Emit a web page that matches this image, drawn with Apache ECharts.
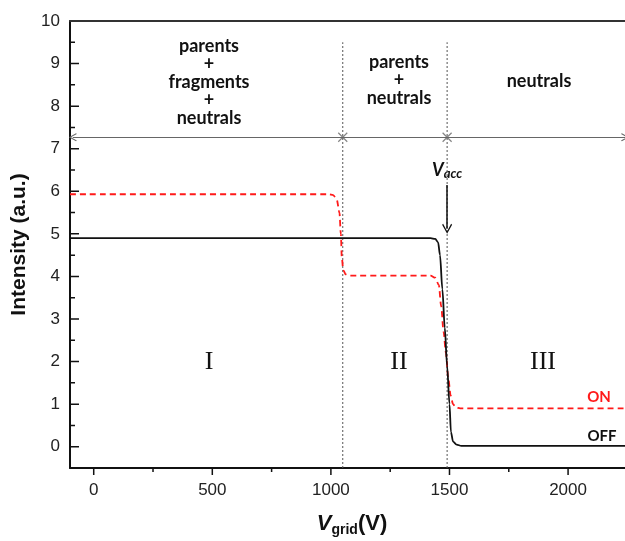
<!DOCTYPE html>
<html><head><meta charset="utf-8">
<script src="https://cdn.jsdelivr.net/npm/echarts@6/dist/echarts.min.js"></script>
<style>html,body{margin:0;padding:0;background:#fff}#c{width:625px;height:541px}</style>
</head><body><div id="c"></div>
<script>
// ---- data ----
const offX = [-100, 1420, 1440, 1452, 1460, 1470, 1480, 1490, 1500, 1506, 1515, 1530, 1550, 2240];
const offY = [4.9, 4.9, 4.88, 4.8, 4.5, 3.7, 2.8, 1.9, 1.0, 0.35, 0.12, 0.05, 0.02, 0.02];
const onX = [-100, 990, 1010, 1025, 1036, 1042, 1046, 1052, 1062, 1078, 1100, 1420, 1440, 1455, 1465, 1475, 1485, 1495, 1505, 1515, 1527, 1545, 2240];
const onY = [5.93, 5.93, 5.91, 5.8, 5.5, 5.0, 4.45, 4.15, 4.05, 4.02, 4.02, 4.02, 3.97, 3.8, 3.3, 2.7, 2.2, 1.6, 1.2, 1.0, 0.92, 0.9, 0.9];
const boundaries = [1050, 1490];
const boundaryTop = 9.5;
const arrowLevel = 7.27;
const arrowStart = -88;
const arrowEnd = 2240;
const vaccX = 1490, vaccFrom = 6.15, vaccTo = 5.12;
const xTicks = [0, 500, 1000, 1500, 2000];
const xMinor = [250, 750, 1250, 1750];
const yTicks = [0, 1, 2, 3, 4, 5, 6, 7, 8, 9, 10];
const yMinor = [-0.5, 0.5, 1.5, 2.5, 3.5, 4.5, 5.5, 6.5, 7.5, 8.5, 9.5];

const pairs = (xs, ys) => xs.map((x, i) => [x, ys[i]]);
const chart = echarts.init(document.getElementById('c'));
const X_PATH = 'path://M0,0L10,10M10,0L0,10';
const CHEVRON = 'path://M5,0L10,9L9,10L5,2.6L1,10L0,9Z';
const gray = '#666';
const XR = {min: -100, max: 2240};
const YR = {min: -0.5, max: 10};

// tick marks: short segments placed through the axis scales
function xTickSeries(vals, len) {
  return {type: 'line', silent: true, z: 6, symbol: 'none', clip: false,
    data: vals.flatMap(v => [[v, YR.min], [v, YR.min - len / 42.5], [null, null]]),
    connectNulls: false,
    lineStyle: {color: '#111', width: 1.5}};
}
function yTickSeries(vals, len) {
  return {type: 'line', silent: true, z: 6, symbol: 'none', clip: false,
    data: vals.flatMap(v => [[XR.min, v], [XR.min + len / 0.2372, v], [null, null]]),
    connectNulls: false,
    lineStyle: {color: '#111', width: 1.5}};
}

const boundarySeries = boundaries.map(b => ({
  type: 'line', data: [[b, -0.5], [b, boundaryTop]], symbol: 'none', silent: true,
  lineStyle: {color: '#555', width: 1, type: [2, 2]}, z: 1
}));

const option = {
  animation: false,
  grid: {left: 70, right: 0, top: 21, bottom: 73, containLabel: false},
  xAxis: [
    {type: 'value', ...XR, position: 'bottom',
     axisLine: {show: true, onZero: false, lineStyle: {color: '#111', width: 2}},
     axisTick: {show: false},
     axisLabel: {show: true, customValues: xTicks, margin: 14, color: '#222', fontFamily: 'Liberation Sans', fontSize: 17,
                 formatter: v => String(v)},
     splitLine: {show: false}},
    {type: 'value', ...XR, position: 'top',
     axisLine: {show: true, onZero: false, lineStyle: {color: '#333', width: 2}},
     axisTick: {show: false}, axisLabel: {show: false}, splitLine: {show: false}}
  ],
  yAxis: [
    {type: 'value', ...YR, position: 'left',
     axisLine: {show: true, onZero: false, lineStyle: {color: '#111', width: 2}},
     axisTick: {show: false},
     axisLabel: {show: true, customValues: yTicks, margin: 10, color: '#222', fontFamily: 'Liberation Sans', fontSize: 17,
                 formatter: v => String(v)},
     splitLine: {show: false},
     name: 'Intensity (a.u.)', nameLocation: 'middle', nameGap: 40, nameRotate: 90,
     nameTextStyle: {fontFamily: 'Liberation Sans', fontWeight: 'bold', fontSize: 21, color: '#111'}}
  ],
  series: [
    ...boundarySeries,
    xTickSeries(xTicks, 7),
    xTickSeries(xMinor, 4),
    yTickSeries(yTicks.filter(v => v < YR.max), 9),
    yTickSeries(yMinor, 5),
    {type: 'line', name: 'guide', data: [], symbol: 'none', silent: true,
     markLine: {silent: true, symbol: [CHEVRON, CHEVRON], symbolSize: [8, 8],
       label: {show: false}, lineStyle: {color: gray, width: 1.2, type: 'solid'},
       itemStyle: {color: gray},
       data: [[{coord: [arrowStart, arrowLevel]}, {coord: [arrowEnd, arrowLevel]}]]}},
    {type: 'scatter', data: boundaries.map(b => [b, arrowLevel]), symbol: X_PATH, symbolSize: 9, silent: true,
     itemStyle: {color: 'none', borderColor: gray, borderWidth: 1.2}, z: 3},
    {type: 'line', name: 'vacc', data: [], symbol: 'none', silent: true,
     markLine: {silent: true, symbol: ['none', CHEVRON], symbolSize: [10, 10],
       label: {show: false}, lineStyle: {color: '#111', width: 1.5, type: 'solid'},
       itemStyle: {color: '#111'},
       data: [[{coord: [vaccX, vaccFrom]}, {coord: [vaccX, vaccTo]}]]}},
    {type: 'line', name: 'ON', data: pairs(onX, onY), symbol: 'none', smooth: 0.3, smoothMonotone: 'x',
     lineStyle: {color: '#ff1a1a', width: 1.8, type: [6, 4]}, z: 4},
    {type: 'line', name: 'OFF', data: pairs(offX, offY), symbol: 'none', smooth: 0.3, smoothMonotone: 'x',
     lineStyle: {color: '#111', width: 1.8}, z: 5}
  ],
  graphic: [
    {type: 'text', x: 209, y: 82, style: {text: 'parents\n+\nfragments\n+\nneutrals', align: 'center', verticalAlign: 'middle', lineHeight: 18, font: 'bold 18px Lato', fill: '#111'}},
    {type: 'text', x: 399, y: 80, style: {text: 'parents\n+\nneutrals', align: 'center', verticalAlign: 'middle', lineHeight: 18, font: 'bold 18px Lato', fill: '#111'}},
    {type: 'text', x: 539, y: 81, style: {text: 'neutrals', align: 'center', verticalAlign: 'middle', font: 'bold 18px Lato', fill: '#111'}},
    {type: 'text', x: 447, y: 170, style: {
      text: '{v|V}{s|acc}', align: 'center', verticalAlign: 'middle',
      rich: {v: {font: 'italic bold 18px Lato', fill: '#111'}, s: {font: 'italic bold 13px Lato', fill: '#111', padding: [8, 0, 0, 0]}}}},
    {type: 'text', x: 209, y: 362, style: {text: 'I', align: 'center', verticalAlign: 'middle', font: '26px "Liberation Serif"', fill: '#111'}},
    {type: 'text', x: 399, y: 362, style: {text: 'II', align: 'center', verticalAlign: 'middle', font: '26px "Liberation Serif"', fill: '#111'}},
    {type: 'text', x: 543, y: 362, style: {text: 'III', align: 'center', verticalAlign: 'middle', font: '26px "Liberation Serif"', fill: '#111'}},
    {type: 'text', x: 599, y: 397, style: {text: 'ON', align: 'center', verticalAlign: 'middle', font: 'bold 15px Lato', fill: '#ff1a1a'}},
    {type: 'text', x: 602, y: 436, style: {text: 'OFF', align: 'center', verticalAlign: 'middle', font: 'bold 15px Lato', fill: '#111'}},
    {type: 'text', x: 352, y: 524, style: {
      text: '{v|V}{s|grid}{u|(V)}', align: 'center', verticalAlign: 'middle',
      rich: {v: {font: 'italic bold 22px "Liberation Sans"', fill: '#111'},
             s: {font: 'bold 14px "Liberation Sans"', fill: '#111', padding: [12, 0, 0, 0]},
             u: {font: 'bold 22px "Liberation Sans"', fill: '#111'}}}}
  ]
};
chart.setOption(option);
</script></body></html>
